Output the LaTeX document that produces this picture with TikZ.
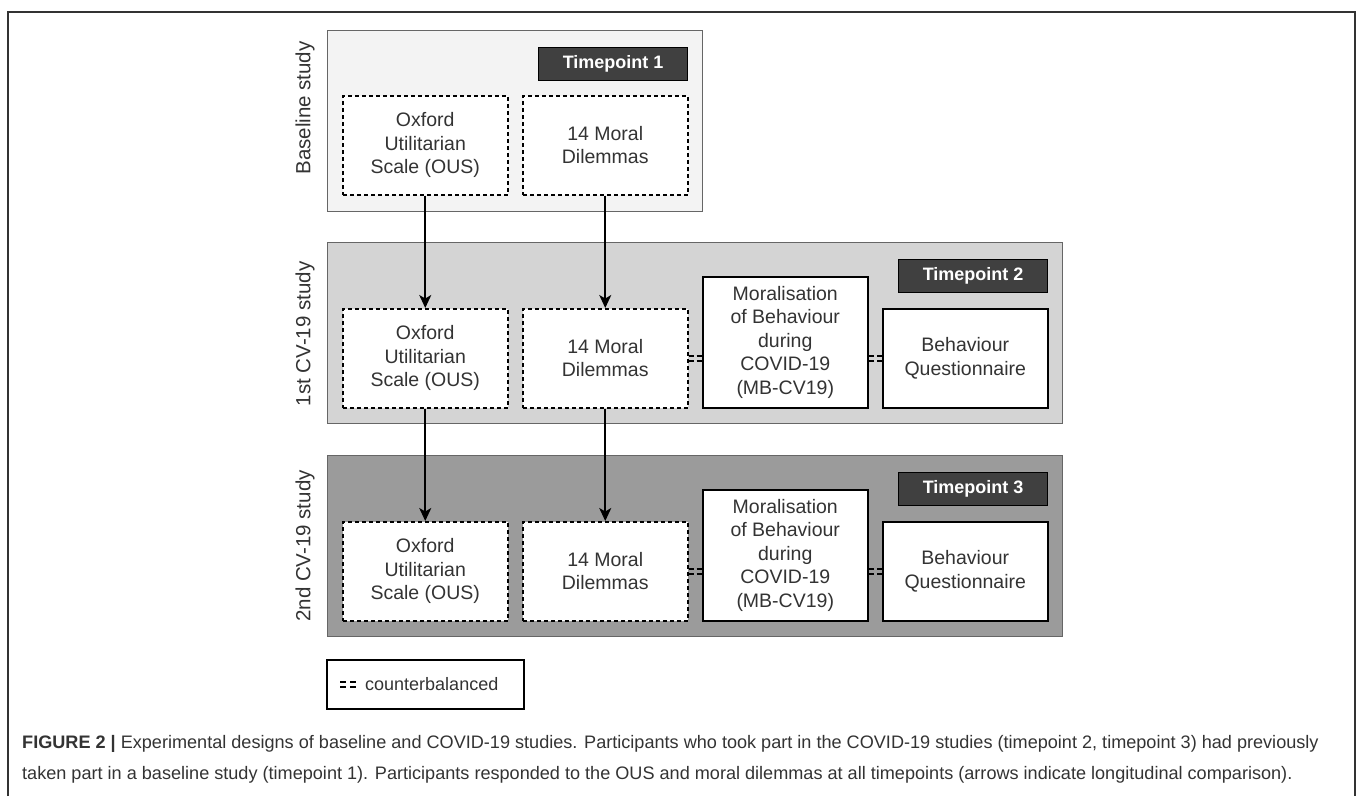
\documentclass[tikz,border=0pt]{standalone}
\usepackage{fontspec}
\setmainfont{Liberation Sans}
\usetikzlibrary{arrows.meta,positioning}
\definecolor{inkgray}{HTML}{333333}
\definecolor{pone}{HTML}{F3F3F3}
\definecolor{ptwo}{HTML}{D4D4D4}
\definecolor{pthree}{HTML}{9B9B9B}
\definecolor{tpfill}{HTML}{404040}
\newcommand{\boxfont}{\fontsize{19.5}{23.5}\selectfont}
\tikzset{panel/.style={draw=black!60, line width=1.2pt, anchor=north west, minimum width=735pt, inner sep=0pt},
         dbox/.style={draw=black, fill=white, line width=1.5pt, dash pattern=on 4pt off 3pt, anchor=north west,
                      minimum width=165pt, minimum height=99pt, align=center, text=inkgray, font=\boxfont, inner sep=2pt},
         sbox/.style={dbox, solid},
         tpoint/.style={draw=black, fill=tpfill, line width=1.2pt, anchor=north west, minimum width=149pt,
                        minimum height=33pt, text=white, font=\fontsize{18}{20}\selectfont\bfseries},
         side/.style={rotate=90, text=inkgray, font=\fontsize{20.5}{24}\selectfont},
         cb/.style={draw=black, line width=1.5pt, dash pattern=on 5pt off 3pt},
         arr/.style={draw=black, line width=1.6pt, -{Stealth[length=13pt,width=12pt,inset=3.5pt]}},
         caption/.style={anchor=base west, text=inkgray, inner sep=0pt, font=\fontsize{18.1}{20}\selectfont}}

\begin{document}
\begin{tikzpicture}[x=1pt,y=-1pt]
\useasboundingbox (0,0) rectangle (1358,796);
\draw[line width=2pt, draw=inkgray] (8,796) -- (8,12) -- (1355,12) -- (1355,796);
% study panels
\node[panel, fill=pone, minimum width=375pt, minimum height=181pt] (base) at (327,30) {};
\node[panel, fill=ptwo, minimum height=181pt] (cvone) at (327,242) {};
\node[panel, fill=pthree, minimum height=181pt] (cvtwo) at (327,455) {};
\node[side] (baselab) at (305,108) {Baseline study};
\node[side] (cvonelab) at (305,334) {1st CV-19 study};
\node[side] (cvtwolab) at (305,546) {2nd CV-19 study};
\node[tpoint] (tpa) at (538,47) {Timepoint 1};
\node[tpoint] (tpb) at (898,259) {Timepoint 2};
\node[tpoint] (tpc) at (898,472) {Timepoint 3};
% timepoint 1
\node[dbox] (ousa) at (342,95) {Oxford\\Utilitarian\\Scale (OUS)};
\node[dbox] (mora) at (522,95) {14 Moral\\Dilemmas};
% timepoint 2
\node[dbox] (ousb) at (342,308) {Oxford\\Utilitarian\\Scale (OUS)};
\node[dbox] (morb) at (522,308) {14 Moral\\Dilemmas};
\node[sbox, minimum height=131pt] (mbb) at (702,276) {Moralisation\\of Behaviour\\during\\COVID-19\\(MB-CV19)};
\node[sbox] (bqb) at (882,308) {Behaviour\\Questionnaire};
% timepoint 3
\node[dbox] (ousc) at (342,521) {Oxford\\Utilitarian\\Scale (OUS)};
\node[dbox] (morc) at (522,521) {14 Moral\\Dilemmas};
\node[sbox, minimum height=131pt] (mbc) at (702,489) {Moralisation\\of Behaviour\\during\\COVID-19\\(MB-CV19)};
\node[sbox] (bqc) at (882,521) {Behaviour\\Questionnaire};
% longitudinal arrows
\draw[arr] (ousa) -- (ousb);
\draw[arr] (mora) -- (morb);
\draw[arr] (ousb) -- (ousc);
\draw[arr] (morb) -- (morc);
% counterbalanced
\foreach \s in {-2.5,2.5} {
  \draw[cb] ([yshift=\s]morb.east) -- ([yshift=\s]morb.east -| mbb.west);
  \draw[cb] ([yshift=\s]bqb.west) -- ([yshift=\s]bqb.west -| mbb.east);
  \draw[cb] ([yshift=\s]morc.east) -- ([yshift=\s]morc.east -| mbc.west);
  \draw[cb] ([yshift=\s]bqc.west) -- ([yshift=\s]bqc.west -| mbc.east);
}
% legend
\node[draw=black, line width=1.5pt, anchor=north west, minimum width=197pt, minimum height=49pt] (legend) at (326,659) {};
\node[right=39pt of legend.west, text=inkgray, font=\fontsize{18}{20}\selectfont, inner sep=0pt] (legtext) {counterbalanced};
\foreach \s in {-2.5,2.5}
  \draw[cb, dash pattern=on 6pt off 4pt] ([xshift=14pt,yshift=\s]legend.west) -- ([xshift=31pt,yshift=\s]legend.west);
% caption
\node[caption] (capa) at (22,748) {\textbf{FIGURE 2 |} Experimental designs of baseline and COVID-19 studies. Participants who took part in the COVID-19 studies (timepoint 2, timepoint 3) had previously};
\node[caption] (capb) at (22,779) {taken part in a baseline study (timepoint 1). Participants responded to the OUS and moral dilemmas at all timepoints (arrows indicate longitudinal comparison).};
\end{tikzpicture}
\end{document}
